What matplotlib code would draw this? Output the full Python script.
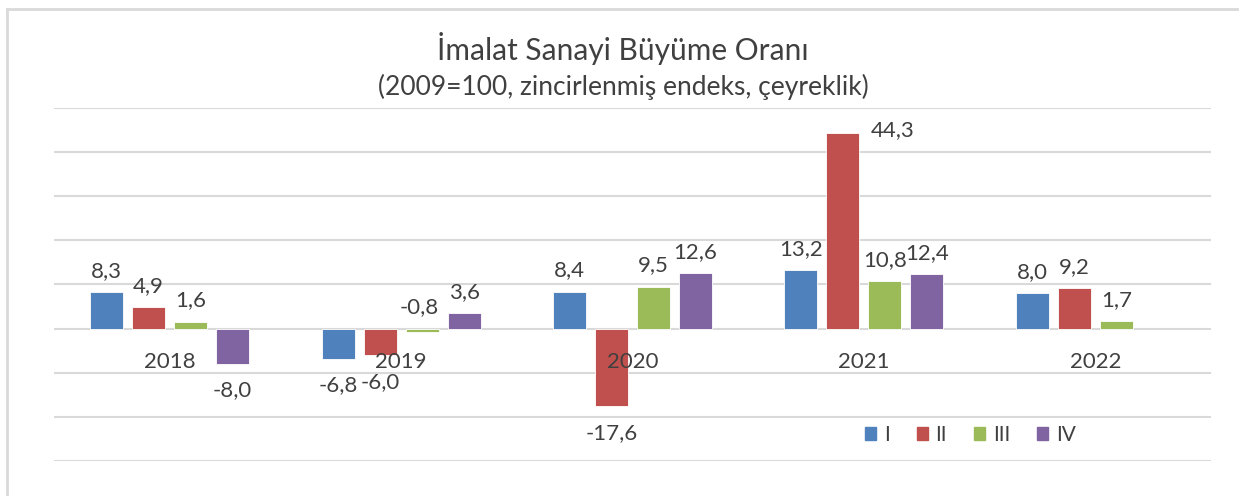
import numpy as np
import matplotlib
matplotlib.use("Agg")
import matplotlib.pyplot as plt
from matplotlib.lines import Line2D

plt.rcParams['font.family'] = ['Lato', 'DejaVu Sans']

# data
years = ["2018", "2019", "2020", "2021", "2022"]
series_names = ["I", "II", "III", "IV"]
q1 = [8.3, -6.8, 8.4, 13.2, 8.0]
q2 = [4.9, -6.0, -17.6, 44.3, 9.2]
q3 = [1.6, -0.8, 9.5, 10.8, 1.7]
q4 = [-8.0, 3.6, 12.6, 12.4, None]
colors = ["#4F81BD", "#C0504D", "#9BBB59", "#8064A2"]

txt = "#404040"
grid = "#D9D9D9"
fs = 16

fig = plt.figure(figsize=(12.46, 4.96), dpi=100)
ax = fig.add_axes([0.0433, 0.0706, 0.9286, 0.7117])

x = np.arange(len(years))
width = 0.1426
step = 0.1815
all_series = [q1, q2, q3, q4]

for i, (vals, c, name) in enumerate(zip(all_series, colors, series_names)):
    off = (i - 1.5) * step
    for j, v in enumerate(vals):
        if v is None:
            continue
        ax.bar(x[j] + off, v, width, color=c, edgecolor="white", linewidth=0.6, zorder=3)
        lab = f"{v:.1f}".replace(".", ",")
        if v > 40:
            # tallest bar: label moved beside the top
            ax.annotate(lab, (x[j] + off + width / 2, v), xytext=(8, 2), textcoords="offset points",
                        ha="left", va="center", fontsize=fs, color=txt, zorder=4)
        elif v >= 0 or (i == 2 and j == 1):
            # small negative label sits above the axis in the original
            dx = -2 if v < 0 else 0
            ax.annotate(lab, (x[j] + off, max(v, 0)), xytext=(dx, 8), textcoords="offset points",
                        ha="center", va="bottom", fontsize=fs, color=txt, zorder=4)
        else:
            ax.annotate(lab, (x[j] + off, v), xytext=(0, -12), textcoords="offset points",
                        ha="center", va="top", fontsize=fs, color=txt, zorder=4)

# category labels sitting just under the zero line
for j, y in enumerate(years):
    ax.annotate(y, (x[j], 0), xytext=(0, -17), textcoords="offset points",
                ha="center", va="top", fontsize=fs, color=txt, zorder=4)

ax.set_xlim(-0.5, len(years) - 0.5)
ax.set_ylim(-30, 50)
ax.set_yticks(np.arange(-30, 51, 10))
ax.set_xticks([])
ax.tick_params(left=False, labelleft=False)
ax.yaxis.grid(True, color=grid, linewidth=1.5, zorder=0)
for s in ax.spines.values():
    s.set_visible(False)

handles = [plt.Rectangle((0, 0), 1, 1, color=c) for c in colors]
leg = ax.legend(handles, series_names, ncol=4, loc="center", bbox_to_anchor=(0.792, 0.074),
                frameon=False, fontsize=15, handlelength=0.55, handleheight=0.55,
                handletextpad=0.35, columnspacing=1.3)
for t in leg.get_texts():
    t.set_color(txt)

fig.text(0.5, 0.902, "İmalat Sanayi Büyüme Oranı", ha="center", va="center", fontsize=21.5, color=txt)
fig.text(0.5, 0.825, "(2009=100, zincirlenmiş endeks, çeyreklik)", ha="center", va="center",
         fontsize=19, color=txt)

# light frame edges visible at top and left
fig.add_artist(Line2D([0.0055, 0.993], [0.982, 0.982], transform=fig.transFigure, color=grid, linewidth=2))
fig.add_artist(Line2D([0.0055, 0.0055], [0.0, 0.982], transform=fig.transFigure, color=grid, linewidth=2))

fig.savefig("out.png", dpi=100)
